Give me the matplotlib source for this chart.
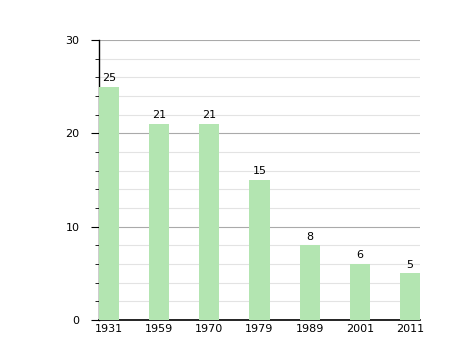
import matplotlib.pyplot as plt
import numpy as np

years = ['1931', '1959', '1970', '1979', '1989', '2001', '2011']
values = [25, 21, 21, 15, 8, 6, 5]

fig = plt.figure(figsize=(4.58, 3.6), dpi=100)
ax = fig.add_axes([99/458, 40/360, 321/458, 280/360])

x = np.arange(len(years))
bars = ax.bar(x, values, width=0.4, align='edge', color='#b3e5b1', zorder=3)

for xi, v in zip(x, values):
    ax.text(xi + 0.2, v + 0.4, str(v), ha='center', va='bottom', fontsize=8, zorder=4)

ax.set_xlim(0, 6.4)
ax.set_ylim(0, 30)
ax.set_xticks(x + 0.2)
ax.set_xticklabels(years, fontsize=8)
ax.tick_params(axis='x', length=0, pad=3)
ax.set_yticks([0, 10, 20, 30])
ax.set_yticks(np.arange(0, 31, 2), minor=True)
ax.tick_params(axis='y', which='major', length=6, labelsize=8, pad=8)
ax.tick_params(axis='y', which='minor', length=3)

ax.grid(axis='y', which='major', color='#aaaaaa', linewidth=0.8, zorder=0)
ax.grid(axis='y', which='minor', color='#e3e3e3', linewidth=0.8, zorder=0)

for s in ['top', 'right']:
    ax.spines[s].set_visible(False)
ax.spines['left'].set_linewidth(1)
ax.spines['bottom'].set_linewidth(1.2)

fig.savefig('out.png', dpi=100)
